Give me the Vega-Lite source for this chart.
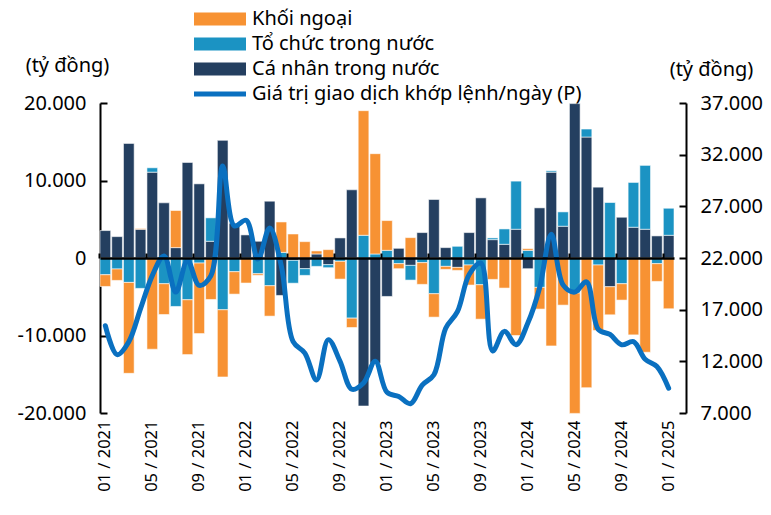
{
  "$schema": "https://vega.github.io/schema/vega-lite/v6.json",
  "width": 574,
  "height": 310,
  "autosize": {"type": "none"},
  "padding": {"left": 100, "top": 103, "right": 97, "bottom": 102},
  "background": "white",
  "config": {
    "font": "Noto Sans",
    "view": {"stroke": null},
    "axis": {"labelFont": "Noto Sans", "titleFont": "Noto Sans", "labelColor": "#000000", "titleColor": "#000000", "grid": false},
    "legend": {"labelFont": "Noto Sans", "labelColor": "#000000", "labelLimit": 0}
  },
  "data": {
    "values": [
      {"t": "01 / 2021", "cn": 3540, "tc": -2160, "kn": -1510, "gt": 15450},
      {"t": "02 / 2021", "cn": 2760, "tc": -1420, "kn": -1470, "gt": 12650},
      {"t": "03 / 2021", "cn": 14790, "tc": -3150, "kn": -11730, "gt": 13900},
      {"t": "04 / 2021", "cn": 3710, "tc": -3920, "kn": 100, "gt": 17100},
      {"t": "05 / 2021", "cn": 11080, "tc": 560, "kn": -11770, "gt": 20300},
      {"t": "06 / 2021", "cn": 7120, "tc": -3320, "kn": -3970, "gt": 22200},
      {"t": "07 / 2021", "cn": 1340, "tc": -6250, "kn": 4790, "gt": 18700},
      {"t": "08 / 2021", "cn": 12330, "tc": -5390, "kn": -7070, "gt": 21750},
      {"t": "09 / 2021", "cn": 9570, "tc": -650, "kn": -9100, "gt": 19350},
      {"t": "10 / 2021", "cn": 2160, "tc": 3020, "kn": -5350, "gt": 20300},
      {"t": "11 / 2021", "cn": 15180, "tc": -6680, "kn": -8670, "gt": 30900},
      {"t": "12 / 2021", "cn": 4480, "tc": -1770, "kn": -2890, "gt": 25100},
      {"t": "01 / 2022", "cn": 2980, "tc": -80, "kn": -3150, "gt": 25650},
      {"t": "02 / 2022", "cn": 2160, "tc": -2030, "kn": -200, "gt": 21900},
      {"t": "03 / 2022", "cn": 7330, "tc": -3580, "kn": -3920, "gt": 24900},
      {"t": "04 / 2022", "cn": -4830, "tc": 730, "kn": 3920, "gt": 21200},
      {"t": "05 / 2022", "cn": -300, "tc": -2950, "kn": 3100, "gt": 13900},
      {"t": "06 / 2022", "cn": -1380, "tc": -860, "kn": 2110, "gt": 12800},
      {"t": "07 / 2022", "cn": 520, "tc": -1080, "kn": 390, "gt": 10200},
      {"t": "08 / 2022", "cn": -860, "tc": -390, "kn": 1080, "gt": 14100},
      {"t": "09 / 2022", "cn": 2590, "tc": -430, "kn": -2290, "gt": 12000},
      {"t": "10 / 2022", "cn": 8800, "tc": -7760, "kn": -1210, "gt": 9300},
      {"t": "11 / 2022", "cn": -19100, "tc": 2930, "kn": 16080, "gt": 9900},
      {"t": "12 / 2022", "cn": -13580, "tc": 520, "kn": 12940, "gt": 12000},
      {"t": "01 / 2023", "cn": -4960, "tc": 990, "kn": 3840, "gt": 9000},
      {"t": "02 / 2023", "cn": 1250, "tc": -730, "kn": -650, "gt": 8600},
      {"t": "03 / 2023", "cn": -950, "tc": -1900, "kn": 2630, "gt": 7900},
      {"t": "04 / 2023", "cn": 3280, "tc": -600, "kn": -2800, "gt": 9700},
      {"t": "05 / 2023", "cn": 7550, "tc": -4610, "kn": -3020, "gt": 10700},
      {"t": "06 / 2023", "cn": 1340, "tc": -1080, "kn": -390, "gt": 15200},
      {"t": "07 / 2023", "cn": -1210, "tc": 1510, "kn": -390, "gt": 16800},
      {"t": "08 / 2023", "cn": 3280, "tc": -900, "kn": -2590, "gt": 20400},
      {"t": "09 / 2023", "cn": 7760, "tc": -3450, "kn": -4440, "gt": 21500},
      {"t": "10 / 2023", "cn": 2370, "tc": 220, "kn": -2760, "gt": 13000},
      {"t": "11 / 2023", "cn": 1770, "tc": 1980, "kn": -3880, "gt": 14900},
      {"t": "12 / 2023", "cn": 3710, "tc": 6210, "kn": -10000, "gt": 13600},
      {"t": "01 / 2024", "cn": -1380, "tc": 990, "kn": 220, "gt": 15700},
      {"t": "02 / 2024", "cn": 6470, "tc": -3790, "kn": -2800, "gt": 19100},
      {"t": "03 / 2024", "cn": 11080, "tc": 170, "kn": -11340, "gt": 24300},
      {"t": "04 / 2024", "cn": 4100, "tc": 1850, "kn": -6080, "gt": 19400},
      {"t": "05 / 2024", "cn": 19920, "tc": -4530, "kn": -15520, "gt": 18700},
      {"t": "06 / 2024", "cn": 15610, "tc": 1030, "kn": -16730, "gt": 19700},
      {"t": "07 / 2024", "cn": 9140, "tc": -900, "kn": -8450, "gt": 15100},
      {"t": "08 / 2024", "cn": -3710, "tc": 7160, "kn": -3620, "gt": 14600},
      {"t": "09 / 2024", "cn": 5260, "tc": -3320, "kn": -2110, "gt": 13600},
      {"t": "10 / 2024", "cn": 3970, "tc": 5780, "kn": -9920, "gt": 13900},
      {"t": "11 / 2024", "cn": 3710, "tc": 8240, "kn": -12160, "gt": 12200},
      {"t": "12 / 2024", "cn": 2850, "tc": -730, "kn": -2290, "gt": 11500},
      {"t": "01 / 2025", "cn": 2930, "tc": 3490, "kn": -6550, "gt": 9400}
    ]
  },
  "layer": [
    {
      "transform": [
        {"fold": ["cn", "tc", "kn"], "as": ["key", "v"]},
        {"lookup": "key", "from": {"data": {"values": [
          {"key": "cn", "ten": "Cá nhân trong nước", "o": 1},
          {"key": "tc", "ten": "Tổ chức trong nước", "o": 2},
          {"key": "kn", "ten": "Khối ngoại", "o": 3}
        ]}, "key": "key", "fields": ["ten", "o"]}}
      ],
      "mark": {"type": "bar", "stroke": "#ffffff", "strokeWidth": 0.8, "strokeOpacity": 0.7},
      "encoding": {
        "x": {
          "field": "t", "type": "ordinal", "sort": null,
          "scale": {"paddingInner": 0.09, "paddingOuter": 0},
          "axis": {
            "orient": "bottom", "title": null, "domain": false, "ticks": false,
            "values": ["01 / 2021", "05 / 2021", "09 / 2021", "01 / 2022", "05 / 2022", "09 / 2022", "01 / 2023", "05 / 2023", "09 / 2023", "01 / 2024", "05 / 2024", "09 / 2024", "01 / 2025"],
            "labelAngle": -90, "labelFontSize": 16.5, "labelPadding": 7
          }
        },
        "y": {
          "field": "v", "type": "quantitative", "stack": "zero",
          "scale": {"domain": [-20000, 20000], "nice": false},
          "axis": {
            "values": [-20000, -10000, 0, 10000, 20000],
            "labelExpr": "(datum.value < 0 ? '-' : '') + replace(format(abs(datum.value), ','), ',', '.')",
            "labelFontSize": 20, "labelPadding": 21,
            "tickSize": -7, "tickWidth": 2, "tickColor": "#000000",
            "domainColor": "#000000", "domainWidth": 2,
            "title": "(tỷ đồng)", "titleAngle": 0, "titleX": -33, "titleY": -38,
            "titleAlign": "center", "titleBaseline": "middle", "titleFontSize": 20, "titleFontWeight": "normal"
          }
        },
        "color": {
          "field": "ten", "type": "nominal",
          "scale": {"domain": ["Khối ngoại", "Tổ chức trong nước", "Cá nhân trong nước"], "range": ["#F79233", "#1B93C3", "#243F60"]},
          "legend": {
            "orient": "none", "legendX": 110, "legendY": -94, "title": null, "padding": 0,
            "symbolType": "M-3.714,-0.929H3.714V0.929H-3.714Z", "symbolSize": 196, "symbolStrokeWidth": 0,
            "labelFontSize": 20, "labelOffset": 22, "rowPadding": 5, "labelLimit": 0,
            "labelExpr": "datum.label == 'Khối ngoại' ? '\u00a0Khối ngoại' : datum.label"
          }
        },
        "order": {"field": "o", "type": "quantitative"}
      }
    },
    {
      "mark": {"type": "line", "interpolate": "catmull-rom", "strokeWidth": 5, "strokeCap": "round", "strokeJoin": "round"},
      "encoding": {
        "x": {
          "field": "t", "type": "ordinal", "sort": null,
          "axis": {
            "orient": "top", "offset": -155, "title": null, "labels": false,
            "values": ["01 / 2021", "05 / 2021", "09 / 2021", "01 / 2022", "05 / 2022", "09 / 2022", "01 / 2023", "05 / 2023", "09 / 2023", "01 / 2024", "05 / 2024", "09 / 2024", "01 / 2025"],
            "domainColor": "#000000", "domainWidth": 2.5,
            "tickSize": 5, "tickWidth": 2, "tickColor": "#000000", "tickOffset": -5.9,
            "zindex": 1
          }
        },
        "y": {
          "field": "gt", "type": "quantitative",
          "scale": {"domain": [7000, 37000], "nice": false},
          "axis": {
            "orient": "right", "offset": 12,
            "values": [7000, 12000, 17000, 22000, 27000, 32000, 37000],
            "labelExpr": "replace(format(datum.value, ','), ',', '.')",
            "labelFontSize": 20, "labelPadding": 21,
            "tickSize": -7, "tickWidth": 2, "tickColor": "#000000",
            "domainColor": "#000000", "domainWidth": 2,
            "title": "(tỷ đồng)", "titleAngle": 0, "titleX": 25, "titleY": -34,
            "titleAlign": "center", "titleBaseline": "middle", "titleFontSize": 20, "titleFontWeight": "normal"
          }
        },
        "stroke": {
          "datum": "Giá trị giao dịch khớp lệnh/ngày (P)",
          "scale": {"range": ["#0A70C0"]},
          "legend": {
            "orient": "none", "legendX": 110, "legendY": -19, "title": null, "padding": 0,
            "symbolType": "M-3.714,0H3.714", "symbolSize": 196, "symbolStrokeWidth": 5,
            "labelFontSize": 20, "labelOffset": 22, "labelLimit": 0
          }
        }
      }
    }
  ],
  "resolve": {"scale": {"y": "independent", "stroke": "independent", "color": "independent"}, "axis": {"x": "independent"}}
}
